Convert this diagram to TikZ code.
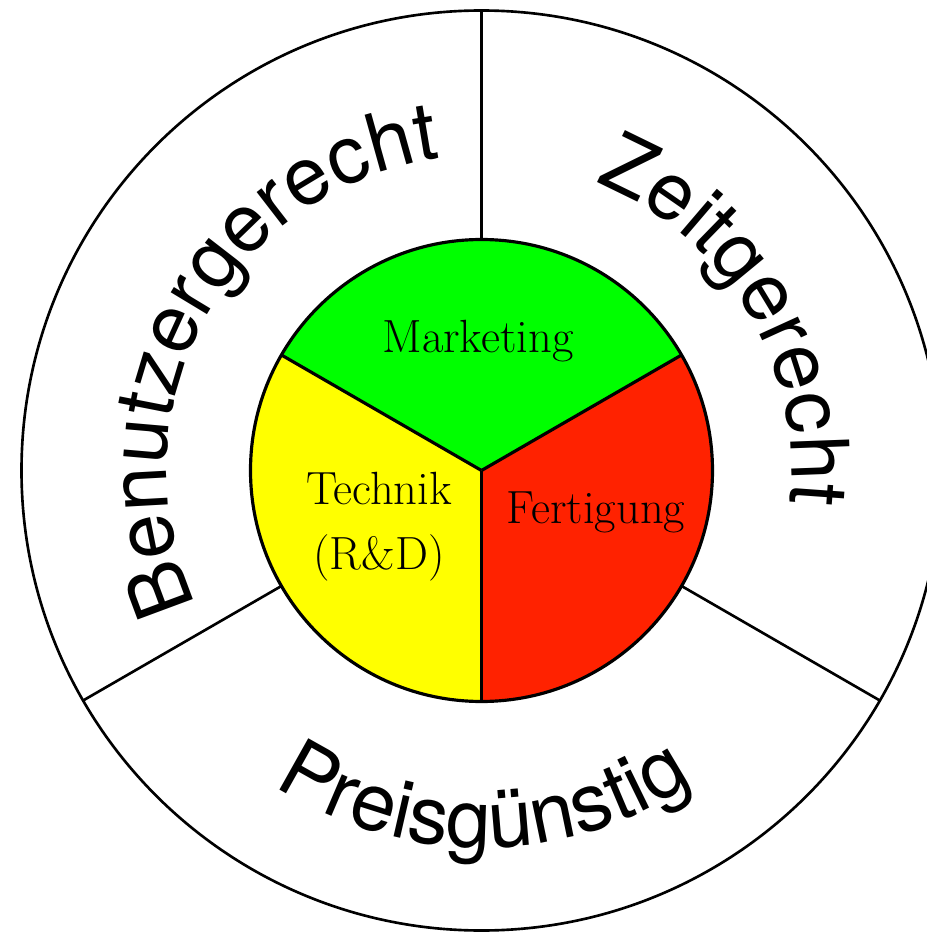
\documentclass[tikz,border=0pt]{standalone}
\usepackage{fontspec}
\newfontfamily\ringfont{TeX Gyre Heros}
\usetikzlibrary{decorations.text}

\definecolor{mktgreen}{RGB}{0,255,0}
\definecolor{techyellow}{RGB}{255,255,0}
\definecolor{fertred}{RGB}{255,34,0}

\newcommand{\ringfmt}{\ringfont\fontsize{46}{46}\selectfont}

\tikzstyle{ring-line} = [line width=1.5pt, draw=black]
\tikzstyle{core-line} = [line width=1.8pt, draw=black]
\tikzstyle{sector-text} = [font=\fontsize{26.5}{37}\selectfont, align=center, inner sep=0pt]
\tikzstyle{ring-text} = [decorate, decoration={text along path, text align=center}]

\begin{document}
\begin{tikzpicture}
  \clip (-9.63,-9.23) rectangle (8.91,9.41);

  % inner sectors
  \fill [mktgreen] (0,0) -- (30:4.62) arc [start angle=30, end angle=150, radius=4.62] -- cycle;
  \fill [techyellow] (0,0) -- (150:4.62) arc [start angle=150, end angle=270, radius=4.62] -- cycle;
  \fill [fertred] (0,0) -- (270:4.62) arc [start angle=270, end angle=390, radius=4.62] -- cycle;

  \coordinate (mid) at (0,0);
  \coordinate (in-top) at (90:4.62);
  \coordinate (in-left) at (210:4.62);
  \coordinate (in-right) at (330:4.62);
  \coordinate (out-top) at (90:9.2);
  \coordinate (out-left) at (210:9.2);
  \coordinate (out-right) at (330:9.2);

  % outer ring
  \draw [ring-line] (mid) circle [radius=9.2];
  \draw [ring-line] (in-top) -- (out-top);
  \draw [ring-line] (in-left) -- (out-left);
  \draw [ring-line] (in-right) -- (out-right);

  % inner circle
  \draw [core-line] (mid) -- (30:4.62);
  \draw [core-line] (mid) -- (150:4.62);
  \draw [core-line] (mid) -- (270:4.62);
  \draw [core-line] (mid) circle [radius=4.62];

  \node (marketing) [sector-text, anchor=base] at (-0.07,2.37) {Marketing};
  \node (technik) [sector-text] at (-2.05,-1.13) {Technik\\(R\&D)};
  \node (fertigung) [sector-text, anchor=base] at (2.29,-1.05) {Fertigung};

  % ring labels
  \path [ring-text, decoration={text={|\ringfmt|Benutzergerecht}}] (221.35:6.3) arc [start angle=221.35, end angle=81.35, radius=6.3];
  \path [ring-text, decoration={text={|\ringfmt|Zeitgerecht}}] (81.2:6.2) arc [start angle=81.2, end angle=-18.8, radius=6.2];
  \path [ring-text, decoration={text={|\ringfmt|Preisgünstig}}] (220.4:7.54) arc [start angle=220.4, end angle=320.4, radius=7.54];
\end{tikzpicture}
\end{document}
